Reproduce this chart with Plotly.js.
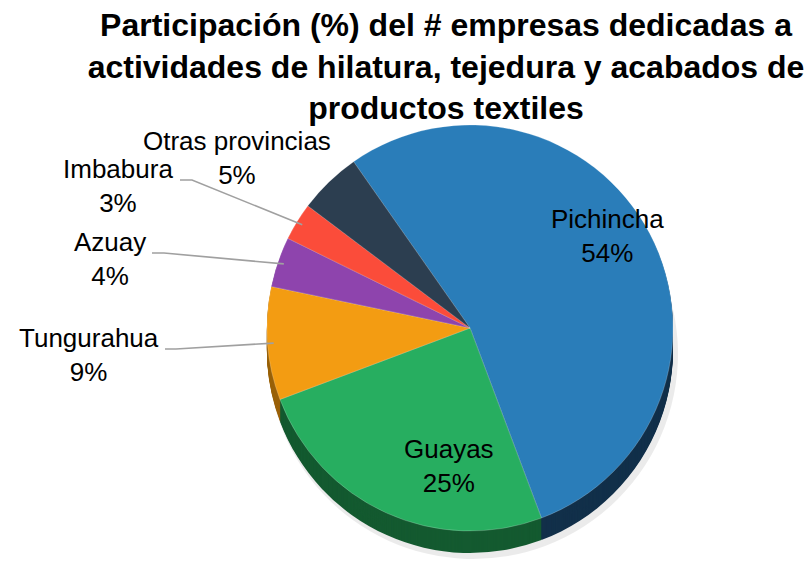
<!DOCTYPE html>
<html>
<head>
<meta charset="utf-8">
<script src="https://cdn.plot.ly/plotly-3.0.1.min.js"></script>
<style>
  html, body { margin: 0; padding: 0; background: #ffffff; }
  #chart { width: 809px; height: 565px; }
</style>
</head>
<body>
<div id="chart"></div>
<script>
// ---- data ----
const provincias = ['Pichincha', 'Guayas', 'Tungurahua', 'Azuay', 'Imbabura', 'Otras provincias'];
const participacion = [54, 25, 9, 4, 3, 5];

// ---- styles ----
const coloresCara = ['#2A7DB9', '#27AE60', '#F39C12', '#8E44AD', '#FB4C3A', '#2C3E50'];
const coloresLado = ['#12304A', '#145A30', '#9A6008', '#55286A', '#9A2A20', '#18222D'];

const W = 809, H = 565;
const cx = 470, cy = 328, R = 203, depth = 22;
const rotation = -35;

// label layout (pixel centers) and leader elbow starts
const labelPos = {
  'Pichincha': [607, 236],
  'Guayas': [449, 466],
  'Tungurahua': [89, 355],
  'Azuay': [110, 259],
  'Imbabura': [118, 186],
  'Otras provincias': [237, 158]
};
const leaderStart = {
  'Tungurahua': [[165, 349], [176, 349]],
  'Azuay': [[152, 253], [164, 253]],
  'Imbabura': [[180, 180], [192, 180]]
};

function domainFor(ccx, ccy, r) {
  return {
    x: [(ccx - r) / W, (ccx + r) / W],
    y: [1 - (ccy + r) / H, 1 - (ccy - r) / H]
  };
}

const traces = [];
// soft shadow
traces.push({
  type: 'pie', values: participacion, labels: provincias, sort: false,
  direction: 'clockwise', rotation: rotation, textinfo: 'none', hoverinfo: 'skip',
  marker: { colors: provincias.map(() => 'rgba(0,0,0,0.08)'), line: { width: 0 } },
  domain: domainFor(cx + 3, cy + depth + 4, R + 2), showlegend: false
});
// side (extrusion)
for (let d = depth; d >= 1; d -= 1) {
  traces.push({
    type: 'pie', values: participacion, labels: provincias, sort: false,
    direction: 'clockwise', rotation: rotation, textinfo: 'none', hoverinfo: 'skip',
    marker: { colors: coloresLado, line: { width: 0 } },
    domain: domainFor(cx, cy + d, R), showlegend: false
  });
}
// top face
traces.push({
  type: 'pie', values: participacion, labels: provincias, sort: false,
  direction: 'clockwise', rotation: rotation, textinfo: 'none', hoverinfo: 'label+percent',
  marker: { colors: coloresCara, line: { color: 'rgba(255,255,255,0.35)', width: 0.6 } },
  domain: domainFor(cx, cy, R), showlegend: false
});

// annotations built from data
const total = participacion.reduce((a, b) => a + b, 0);
const annotations = [];
const shapes = [];
let acc = 0;
provincias.forEach((p, i) => {
  const start = rotation + 360 * acc / total;
  acc += participacion[i];
  const end = rotation + 360 * acc / total;
  const mid = (start + end) / 2 * Math.PI / 180;
  const pos = labelPos[p];
  annotations.push({
    x: pos[0] / W, y: 1 - pos[1] / H, xref: 'paper', yref: 'paper',
    xanchor: 'center', yanchor: 'middle', showarrow: false,
    text: p + '<br>' + Math.round(100 * participacion[i] / total) + '%',
    font: { family: 'Liberation Sans, Arial, sans-serif', size: 26, color: '#000000' }
  });
  if (leaderStart[p]) {
    const ex = cx + 0.97 * R * Math.sin(mid);
    const ey = cy - 0.97 * R * Math.cos(mid);
    const s = leaderStart[p];
    const f = (pt) => (pt[0] / W) + ',' + (1 - pt[1] / H);
    shapes.push({
      type: 'path', xref: 'paper', yref: 'paper',
      path: 'M' + f(s[0]) + ' L' + f(s[1]) + ' L' + f([ex, ey]),
      line: { color: '#A0A0A0', width: 1.6 }
    });
  }
});

const layout = {
  width: W, height: H,
  margin: { l: 0, r: 0, t: 0, b: 0 },
  paper_bgcolor: '#ffffff',
  showlegend: false,
  title: {
    text: '<b>Participación (%) del # empresas dedicadas a<br>actividades de hilatura, tejedura y acabados de<br>productos textiles</b>',
    x: 446 / W, xanchor: 'center', xref: 'container',
    y: 1 - 36 / H, yanchor: 'top', yref: 'container',
    font: { family: 'Liberation Sans, Arial, sans-serif', size: 32, color: '#000000' }
  },
  annotations: annotations,
  shapes: shapes
};

Plotly.newPlot('chart', traces, layout, { displayModeBar: false, staticPlot: true });
</script>
</body>
</html>
